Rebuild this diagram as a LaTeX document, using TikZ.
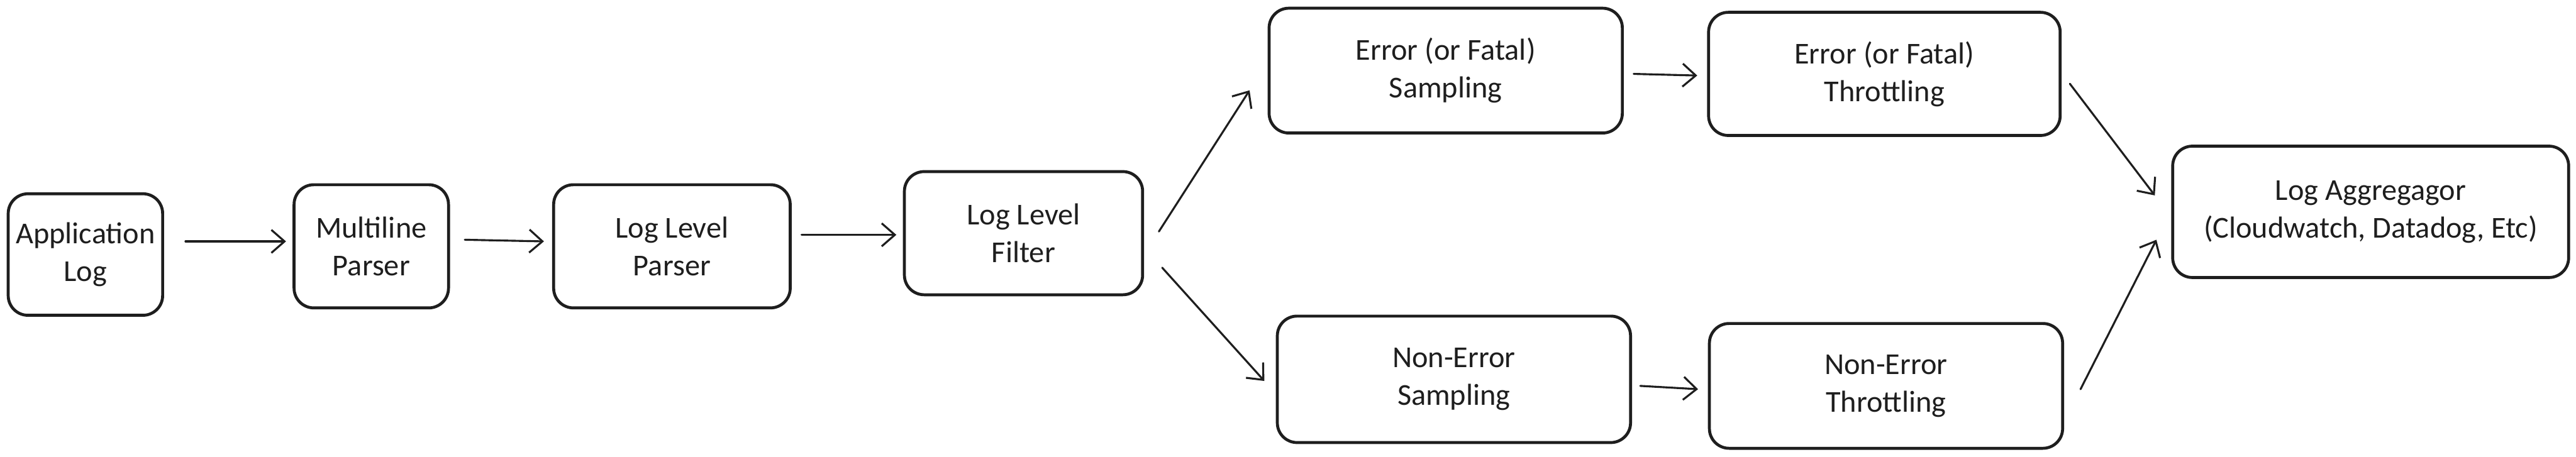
\documentclass[tikz,border=0pt]{standalone}
\usepackage{fontspec}
\setmainfont{Carlito}
\usetikzlibrary{arrows.meta}
\definecolor{ink}{HTML}{1E1E1E}
\begin{document}
\begin{tikzpicture}[x=1pt,y=-1pt,
  box/.style={draw=ink, line width=1.8pt, rounded corners=12pt, align=center,
    font=\fontsize{18.5}{23}\selectfont, text=ink, inner sep=0pt},
  flow/.style={draw=ink, line width=1.2pt, line cap=round,
    -{Straight Barb[length=8pt,width=14pt,line width=1.2pt]}}]
\useasboundingbox (0,0) rectangle (1568,278);
\fill[white] (0,0) rectangle (1568,278);

\node[box, minimum width=94pt, minimum height=74pt] (app) at (52,155) {Application\\Log};
\node[box, minimum width=94pt, minimum height=75pt] (mp) at (226,150) {Multiline\\Parser};
\node[box, minimum width=144pt, minimum height=75pt] (llp) at (409,150) {Log Level\\Parser};
\node[box, minimum width=145pt, minimum height=75pt] (llf) at (623,142) {Log Level\\Filter};
\node[box, minimum width=215pt, minimum height=76pt] (es) at (880,43) {Error (or Fatal)\\Sampling};
\node[box, minimum width=214pt, minimum height=75pt] (et) at (1147,45) {Error (or Fatal)\\Throttling};
\node[box, minimum width=215pt, minimum height=77pt] (nes) at (885,231) {Non-Error\\Sampling};
\node[box, minimum width=215pt, minimum height=76pt] (net) at (1148,235) {Non-Error\\Throttling};
\node[box, minimum width=241pt, minimum height=80pt] (agg) at (1443,129) {Log Aggregagor\\(Cloudwatch, Datadog, Etc)};

\draw[flow] ([xshift=13pt,yshift=8pt]app.east) -- ([xshift=-4pt,yshift=3pt]mp.west);
\draw[flow] ([xshift=9pt,yshift=4pt]mp.east) -- ([xshift=-5pt,yshift=3pt]llp.west);
\draw[flow] ([xshift=6pt,yshift=7pt]llp.east) -- ([xshift=-4pt,yshift=-1pt]llf.west);
\draw[flow] ([xshift=9pt,yshift=1pt]llf.east) -- ([xshift=-11pt,yshift=-12pt]es.west);
\draw[flow] ([xshift=11pt,yshift=-21pt]llf.east) -- ([xshift=-7pt,yshift=-1pt]nes.west);
\draw[flow] ([xshift=6pt,yshift=-2pt]es.east) -- ([xshift=-6pt,yshift=-1pt]et.west);
\draw[flow] ([xshift=5pt,yshift=-4pt]nes.east) -- ([xshift=-6pt,yshift=-2pt]net.west);
\draw[flow] ([xshift=5pt,yshift=-6pt]et.east) -- ([xshift=-10pt,yshift=10pt]agg.west);
\draw[flow] ([xshift=10pt,yshift=-2pt]net.east) -- ([xshift=-9pt,yshift=-17pt]agg.west);
\end{tikzpicture}
\end{document}
